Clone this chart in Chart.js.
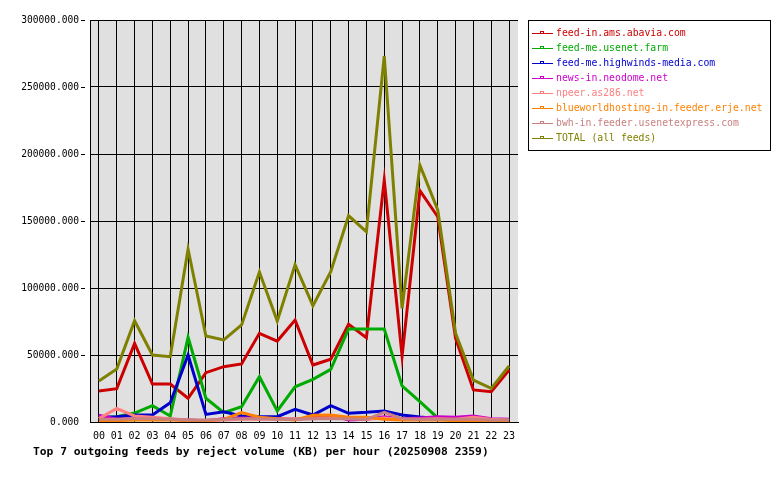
<!DOCTYPE html>
<html>
<head>
<meta charset="utf-8">
<script src="https://cdn.jsdelivr.net/npm/chart.js@4.4.1/dist/chart.umd.min.js"></script>
<style>
  html, body { margin: 0; padding: 0; background: #ffffff; }
  #wrap { width: 780px; height: 480px; }
</style>
</head>
<body>
<div id="wrap"><canvas id="feedChart" width="780" height="480"></canvas></div>
<script>
// hours on the x axis
const hours = ['00','01','02','03','04','05','06','07','08','09','10','11',
               '12','13','14','15','16','17','18','19','20','21','22','23'];

// feed names and colours
const feedNames = [
    'feed-in.ams.abavia.com',
    'feed-me.usenet.farm',
    'feed-me.highwinds-media.com',
    'news-in.neodome.net',
    'npeer.as286.net',
    'blueworldhosting-in.feeder.erje.net',
    'bwh-in.feeder.usenetexpress.com',
    'TOTAL (all feeds)'
];
const feedColors = ['#cc0000', '#00aa00', '#0000cc', '#cc00cc', '#ff8080', '#ff8000', '#c88080', '#808000'];

// reject volume (KB) per hour
const abavia   = [23100, 24900, 58700, 28300, 28300, 17700, 36800, 41300, 43300, 66200, 60400, 76100,
                  42500, 46800, 72900, 62900, 180500, 49200, 172600, 153200, 62400, 23900, 22600, 38800];
const usenetFarm = [3000, 4000, 6700, 12200, 4500, 63200, 17700, 7000, 11400, 33800, 8200, 26300,
                  31800, 39300, 69400, 69400, 69400, 26900, 15200, 3000, 500, 300, 200, 200];
const highwinds = [3500, 4000, 5200, 5200, 14400, 50000, 5700, 7700, 4500, 4000, 4000, 9500,
                  5200, 12200, 6500, 7200, 8200, 5200, 3700, 2500, 1500, 1500, 1200, 1000];
const neodome  = [5000, 2000, 2500, 2500, 2000, 1500, 1000, 2500, 3000, 3000, 2500, 2000,
                  3000, 5000, 1500, 2000, 4000, 2500, 3000, 4000, 3500, 4500, 2500, 2000];
const npeer    = [2500, 10200, 4500, 3500, 2500, 1500, 1000, 1500, 2000, 2000, 2000, 2500,
                  2500, 3000, 2500, 2000, 3000, 2000, 2000, 2500, 2000, 3500, 2000, 1500];
const erje     = [1000, 1000, 1500, 1500, 1500, 1000, 1000, 2000, 7000, 3500, 2500, 1500,
                  5000, 5200, 3500, 3500, 2000, 1500, 1500, 1500, 1000, 1000, 1000, 1000];
const usenetExpress = [2000, 2000, 2500, 2500, 2000, 1500, 1500, 2000, 2500, 2500, 2000, 2000,
                  2500, 2500, 2500, 2000, 7200, 2500, 2000, 2000, 2000, 2000, 1500, 1500];
const total    = [30600, 39500, 75600, 50000, 48700, 129000, 64200, 61200, 72400, 111900, 75300, 117400,
                  86800, 112100, 153900, 142000, 273000, 84800, 191700, 158200, 66200, 31300, 25100, 41800];

const yTicks = [0, 50000, 100000, 150000, 200000, 250000, 300000];
const chartTitle = 'Top 7 outgoing feeds by reject volume (KB) per hour (20250908 2359)';

const seriesList = [abavia, usenetFarm, highwinds, neodome, npeer, erje, usenetExpress, total];
const monoFont = '"DejaVu Sans Mono", "Liberation Mono", monospace';

// grey plot background .........................................................
const plotBackground = {
    id: 'plotBackground',
    beforeDraw(chart) {
        const { ctx, chartArea } = chart;
        ctx.save();
        ctx.fillStyle = '#e0e0e0';
        ctx.fillRect(chartArea.left, chartArea.top, chartArea.right - chartArea.left, chartArea.bottom - chartArea.top);
        ctx.restore();
    }
};

// legend box at the right, y tick dashes and title at the bottom ..............
const sideLegend = {
    id: 'sideLegend',
    afterDraw(chart) {
        const ctx = chart.ctx;
        const yScale = chart.scales.y;
        ctx.save();
        ctx.strokeStyle = '#000000';
        ctx.lineWidth = 1;
        // little dashes after the y labels
        yTicks.slice(1).forEach(v => {
            const y = Math.round(yScale.getPixelForValue(v)) + 0.5;
            ctx.beginPath();
            ctx.moveTo(81, y);
            ctx.lineTo(85, y);
            ctx.stroke();
        });
        ctx.strokeRect(528.5, 20.5, 242, 130);
        ctx.font = '9.8px ' + monoFont;
        ctx.textBaseline = 'middle';
        ctx.textAlign = 'left';
        for (let i = 0; i < feedNames.length; i++) {
            const y = 33.5 + i * 15;
            ctx.strokeStyle = feedColors[i];
            ctx.beginPath();
            ctx.moveTo(532, y);
            ctx.lineTo(553, y);
            ctx.stroke();
            ctx.strokeRect(540.5, y - 2, 3, 2);
            ctx.fillStyle = feedColors[i];
            ctx.fillText(feedNames[i], 556, y);
        }
        ctx.fillStyle = '#000000';
        ctx.font = 'bold 11.3px ' + monoFont;
        ctx.fillText(chartTitle, 33, 452);
        ctx.restore();
    }
};

const datasets = seriesList.map((values, i) => ({
    label: feedNames[i],
    data: values,
    borderColor: feedColors[i],
    backgroundColor: feedColors[i],
    borderWidth: 3,
    pointRadius: 0,
    tension: 0,
    fill: false,
    order: seriesList.length - 1 - i
}));

new Chart(document.getElementById('feedChart').getContext('2d'), {
    type: 'line',
    data: { labels: hours, datasets: datasets },
    plugins: [plotBackground, sideLegend],
    options: {
        responsive: false,
        animation: false,
        layout: { padding: { top: 20, right: 262, left: 0, bottom: 0 } },
        plugins: {
            legend: { display: false },
            tooltip: { enabled: false },
            title: { display: false }
        },
        scales: {
            x: {
                offset: true,
                grid: { offset: false, color: '#000000', lineWidth: 1, drawTicks: false },
                border: { color: '#000000' },
                ticks: { color: '#000000', font: { family: monoFont, size: 10 }, padding: 8, maxRotation: 0, autoSkip: false },
                afterFit(scale) { scale.height = 58; }
            },
            y: {
                min: 0,
                max: 300000,
                afterBuildTicks(scale) { scale.ticks = yTicks.map(v => ({ value: v })); },
                grid: { color: '#000000', lineWidth: 1, drawTicks: false },
                border: { color: '#000000' },
                ticks: {
                    color: '#000000',
                    font: { family: monoFont, size: 9.6 },
                    padding: 11,
                    callback: v => v.toFixed(3)
                },
                afterFit(scale) { scale.width = 90; }
            }
        }
    }
});
</script>
</body>
</html>
